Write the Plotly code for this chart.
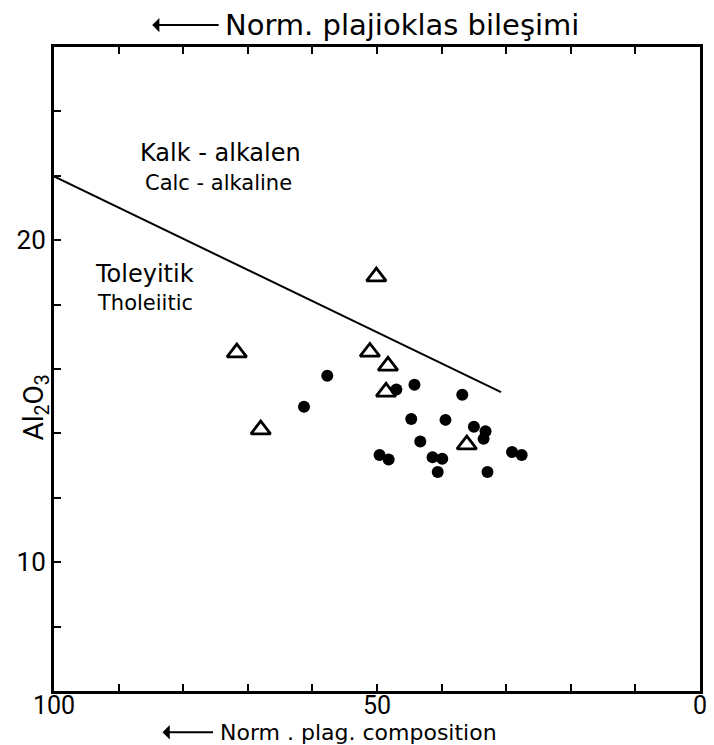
import plotly.graph_objects as go

# Data
dot_x = [57.7, 61.3, 47.0, 44.2, 36.8, 44.7, 39.4, 35.0, 33.2, 33.5, 43.3, 49.6, 48.2, 41.4, 39.9, 40.6, 32.9, 29.1, 27.6]
dot_y = [15.79, 14.83, 15.36, 15.51, 15.20, 14.45, 14.42, 14.21, 14.07, 13.83, 13.75, 13.33, 13.19, 13.26, 13.21, 12.80, 12.80, 13.42, 13.33]
tri_x = [50.1, 71.7, 51.1, 48.3, 48.6, 68.0, 36.1]
tri_y = [18.87, 16.51, 16.53, 16.10, 15.29, 14.12, 13.65]
line_x = [100.7, 30.8]
line_y = [22.05, 15.28]
x_ticks = [0, 10, 20, 30, 40, 50, 60, 70, 80, 90, 100]
x_labels = ["0", "", "", "", "", "50", "", "", "", "", "100"]
y_ticks = [6, 8, 10, 12, 14, 16, 18, 20, 22, 24, 26]
y_labels = ["", "", "10", "", "", "", "", "20", "", "", ""]

TICKFONT = "Roboto, DejaVu Sans, sans-serif"
FONT = "DejaVu Sans, Roboto, sans-serif"

fig = go.Figure()
fig.add_trace(go.Scatter(x=line_x, y=line_y, mode="lines",
                         line=dict(color="black", width=2), cliponaxis=False,
                         showlegend=False))
fig.add_trace(go.Scatter(x=dot_x, y=dot_y, mode="markers",
                         marker=dict(symbol="circle", size=12, color="black"),
                         showlegend=False))
fig.add_trace(go.Scatter(x=tri_x, y=tri_y, mode="markers",
                         marker=dict(symbol="triangle-up-open", size=17, color="black",
                                     line=dict(width=2.8, color="black")),
                         showlegend=False))

fig.update_layout(
    width=714, height=745,
    margin=dict(l=46, r=22, t=39, b=62),
    paper_bgcolor="white", plot_bgcolor="white",
    font=dict(family=FONT, color="black"),
    xaxis=dict(range=[100, 0], tickvals=x_ticks, ticktext=x_labels,
               ticks="inside", ticklen=7, tickwidth=2, tickcolor="black",
               showline=True, linecolor="black", linewidth=3, mirror="ticks",
               showgrid=False, zeroline=False, automargin=False,
               ticklabelstandoff=-10,
               tickfont=dict(size=25, family=TICKFONT)),
    yaxis=dict(range=[6, 26], tickvals=y_ticks, ticktext=y_labels,
               ticks="inside", ticklen=7, tickwidth=2, tickcolor="black",
               showline=True, linecolor="black", linewidth=3, mirror=True,
               showgrid=False, zeroline=False, automargin=False,
               tickfont=dict(size=26, family=TICKFONT)),
)

ann = [
    dict(text="Norm. plajioklas bileşimi", x=0.262, y=1.034, xanchor="left", yanchor="middle",
         font=dict(size=29)),
    dict(text="Norm . plag. composition", x=0.254, y=-0.064, xanchor="left", yanchor="middle",
         font=dict(size=22)),
    dict(text="Kalk - alkalen", x=0.13, y=0.836, xanchor="left", yanchor="middle",
         font=dict(size=24)),
    dict(text="Calc - alkaline", x=0.138, y=0.789, xanchor="left", yanchor="middle",
         font=dict(size=21)),
    dict(text="Toleyitik", x=0.06, y=0.648, xanchor="left", yanchor="middle",
         font=dict(size=24)),
    dict(text="Tholeiitic", x=0.064, y=0.603, xanchor="left", yanchor="middle",
         font=dict(size=21)),
    dict(text="Al<sub>2</sub>O<sub>3</sub>", x=-0.028, y=0.44, xanchor="center", yanchor="middle",
         textangle=-90, font=dict(size=28, family=TICKFONT)),
]
for a in ann:
    fig.add_annotation(xref="paper", yref="paper", showarrow=False, **a)

# arrows
fig.add_annotation(xref="paper", yref="paper", x=0.152, y=1.034, ax=68, ay=0,
                   text="", showarrow=True,
                   arrowhead=1, arrowsize=1.2, arrowwidth=2, arrowcolor="black")
fig.add_annotation(xref="paper", yref="paper", x=0.168, y=-0.064, ax=52, ay=0,
                   text="", showarrow=True,
                   arrowhead=1, arrowsize=1.2, arrowwidth=2, arrowcolor="black")

fig.write_html("out.html")
